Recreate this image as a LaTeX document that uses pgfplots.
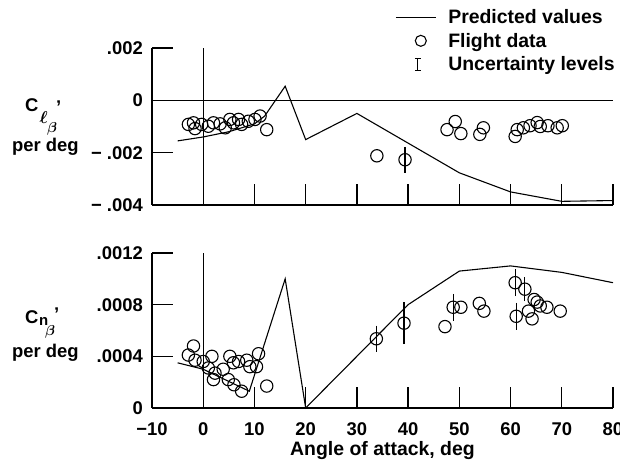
\documentclass[border=0pt]{standalone}
\usepackage{amsmath}
\usepackage{pgfplots}
\pgfplotsset{compat=1.18}
\usepackage{fontspec}
\setmainfont{Liberation Sans}

\newcommand{\lbl}{\fontsize{18.5}{21}\selectfont\bfseries}
\newcommand{\lblbig}{\fontsize{19.5}{22}\selectfont\bfseries}

\pgfplotsset{
  stab/.style={
    scale only axis,
    width=461bp,
    xmin=-10, xmax=80,
    axis lines*=left,
    axis line style={line width=1.3pt},
    tick align=inside,
    major tick length=21bp,
    tick style={line width=1.3pt, black},
    xtick={-10,0,...,80},
    scaled y ticks=false,
    every tick label/.append style={font=\lbl},
    yticklabel style={inner sep=0pt, xshift=-9bp},
    xticklabel style={inner sep=0pt, yshift=-14bp},
    clip=false,
  },
  pred/.style={black, line width=1.1pt, forget plot},
  flt/.style={only marks, mark=o, mark size=6.2pt, black, line width=1.1pt,
    mark options={solid}, forget plot},
  unc/.style={flt, error bars/.cd, y dir=both, y explicit,
    error bar style={line width=1.2pt}, error mark options={line width=1.2pt, mark size=3bp}},
}

\begin{document}
\begin{tikzpicture}[font=\lbl]
\path[use as bounding box] (0,0) rectangle (620bp,460bp);

% upper panel: C_l_beta
\begin{axis}[stab,
  at={(152bp,255bp)}, anchor=south west, height=157bp,
  ymin=-0.004, ymax=0.002,
  ytick={-0.004,-0.002,0,0.002},
  yticklabels={−\ .004, −\ .002, 0, .002},
  xticklabels={},
  legend cell align=left,
  legend style={at={(1.005,1.25)}, anchor=north east, draw=none, fill=none,
    inner sep=0pt, row sep=7bp, font=\lblbig, nodes={inner sep=0.5bp}},
]
\addlegendimage{legend image code/.code={\path[draw=none] (0bp,0bp) (52bp,0bp);
    \draw[line width=1.1pt] (0bp,0bp) -- (40bp,0bp);}}
\addlegendentry{Predicted values}
\addlegendimage{legend image code/.code={\path[draw=none] (0bp,0bp) (52bp,0bp);
    \draw[line width=1.1pt] (25bp,0bp) circle (5.5bp);}}
\addlegendentry{Flight data}
\addlegendimage{legend image code/.code={\path[draw=none] (0bp,0bp) (52bp,0bp);
    \draw[line width=1.3pt] (22bp,-6bp) -- (22bp,6bp)
    (19bp,-6bp) -- (25bp,-6bp) (19bp,6bp) -- (25bp,6bp);}}
\addlegendentry{Uncertainty levels}

\draw[line width=1.3pt] (axis cs:-10,0) -- (axis cs:80,0);
\draw[line width=1.3pt] (axis cs:0,-0.004) -- (axis cs:0,0.002);

\addplot[pred] coordinates {
  (-5,-0.00155) (0,-0.0014) (5,-0.0012) (10,-0.0009) (12,-0.0006)
  (16,0.00054) (20,-0.0015) (30,-0.0005) (50,-0.00277) (60,-0.0035)
  (70,-0.00386) (80,-0.00383)
};
\addplot[flt] coordinates {
  (-2.9,-0.00092) (-1.9,-0.00086) (-1.6,-0.00108) (-0.3,-0.00092)
  (1.0,-0.00099) (2.0,-0.00086) (3.3,-0.0009) (4.3,-0.00105)
  (5.2,-0.00073) (5.9,-0.00086) (6.9,-0.00073) (7.5,-0.00092)
  (8.8,-0.0008) (10.1,-0.00073) (11.1,-0.0006) (12.4,-0.00112)
  (33.9,-0.00212)
  (47.6,-0.00112) (49.2,-0.00081) (50.3,-0.00127) (54.0,-0.0013) (54.7,-0.00105)
  (60.9,-0.00138) (61.3,-0.00112) (62.5,-0.00105) (63.8,-0.00097)
  (65.2,-0.00085) (65.8,-0.001) (67.3,-0.00097) (69.1,-0.00105) (70.1,-0.00097)
};
\addplot[unc] coordinates {
  (39.4,-0.00227) +- (0,0.00038)
};
\end{axis}

% lower panel: C_n_beta
\begin{axis}[stab,
  at={(152bp,52bp)}, anchor=south west, height=155bp,
  ymin=0, ymax=0.0012,
  ytick={0,0.0004,0.0008,0.0012},
  yticklabels={0, .0004, .0008, .0012},
  xticklabels={−10,0,10,20,30,40,50,60,70,80},
  xlabel={Angle of attack, deg},
  xlabel style={inner sep=0pt, yshift=-6bp, font=\lblbig},
]
\draw[line width=1.3pt] (axis cs:0,0) -- (axis cs:0,0.0012);

\addplot[pred] coordinates {
  (-5,0.00035) (0,0.0003) (9,0.00013) (16,0.001) (20,0)
  (40,0.0008) (50,0.00106) (60,0.0011) (70,0.00105) (80,0.00097)
};
\addplot[flt] coordinates {
  (-2.9,0.00041) (-1.9,0.00048) (-1.6,0.00037) (0.0,0.00036)
  (1.7,0.0004) (1.0,0.00031) (2.3,0.00027) (2.0,0.00022)
  (3.9,0.0003) (5.2,0.0004) (4.9,0.00022) (5.9,0.00035)
  (6.9,0.00036) (7.5,0.00013) (8.5,0.00037) (9.1,0.00032)
  (10.8,0.00042) (10.4,0.00032) (12.4,0.00017) (6.0,0.00018)
  (47.2,0.00063) (50.3,0.00078) (53.9,0.00081) (54.8,0.00075)
  (63.5,0.00075) (64.2,0.00069) (64.6,0.00084) (65.2,0.00082)
  (65.8,0.00079) (67.1,0.00078) (69.7,0.00075)
};
\addplot[unc] coordinates {
  (33.8,0.000536) +- (0,0.000078)
  (39.2,0.000657) +- (0,0.00014)
  (48.8,0.00078) +- (0,0.00008)
  (60.9,0.00097) +- (0,0.00008)
  (62.8,0.00092) +- (0,0.00007)
  (61.1,0.00071) +- (0,0.00008)
};
\end{axis}

% axis titles
\node[anchor=base west, inner sep=0pt] at (25bp,348bp)
  {C\kern1bp\raisebox{-12bp}{\fontsize{16}{16}\selectfont$\boldsymbol{\ell}$}\kern-0.5bp\raisebox{-21bp}{\fontsize{14}{14}\selectfont$\boldsymbol{\beta}$}\kern-1bp\raisebox{-2bp}{'}};
\node[anchor=base west, inner sep=0pt] at (12bp,308bp) {per deg};
\node[anchor=base west, inner sep=0pt] at (25bp,136bp)
  {C\kern0.5bp\raisebox{-2bp}{\fontsize{15}{15}\selectfont n}\kern-3bp\raisebox{-12bp}{\fontsize{14}{14}\selectfont$\boldsymbol{\beta}$}\kern-1bp\raisebox{3bp}{'}};
\node[anchor=base west, inner sep=0pt] at (12bp,102bp) {per deg};
\end{tikzpicture}
\end{document}
